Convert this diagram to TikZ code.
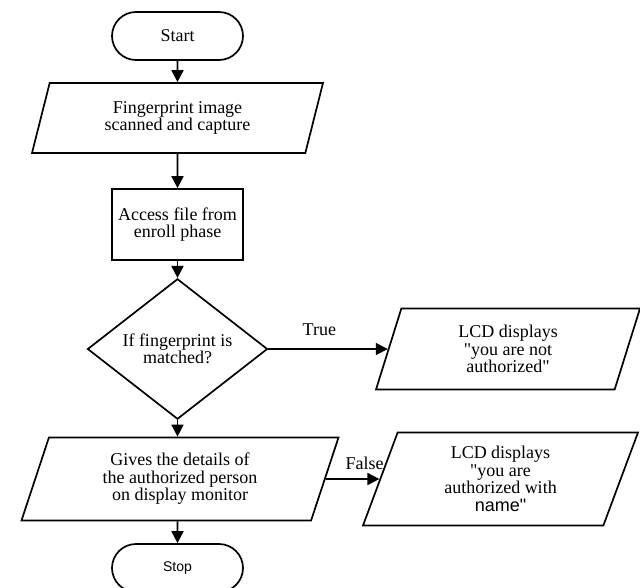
\documentclass[tikz,border=0pt]{standalone}
\usepackage{fontspec}
\setmainfont{Liberation Serif}
\newfontfamily\arialfont{Liberation Sans}
\usepackage{tikz}
\usetikzlibrary{positioning}
\usetikzlibrary{calc,arrows.meta}
\usetikzlibrary{shapes.misc,shapes.geometric}

\tikzset{
	flowline/.style={line width=1.7pt, -{Triangle[width=12pt,length=12pt]}},
	termbox/.style={draw, line width=1.7pt, rounded rectangle, minimum width=131pt, minimum height=48pt, inner sep=0pt},
	procbox/.style={draw, line width=1.7pt, rectangle, minimum width=131pt, minimum height=71pt, inner sep=0pt, align=center},
	decbox/.style={draw, line width=1.7pt, diamond, minimum width=180pt, minimum height=108pt, inner sep=0pt, align=center},
	iobox/.style={draw, line width=1.7pt, trapezium, trapezium left angle=62, trapezium right angle=118,
		trapezium stretches body, inner sep=0pt, align=center},
}

\begin{document}
\begin{tikzpicture}[x=1pt, y=-1pt, font=\fontsize{18}{17.5}\selectfont]
	
	% canvas: one unit is one pixel of the original, y runs downwards
	\useasboundingbox (0,0) rectangle (640,587);
	
	% main column
	\node[termbox] (Start) at (177.5,36) {Start};
	\node[iobox, minimum width=291pt, minimum height=70pt] (Scan) at (177.5,118) {Fingerprint image\\scanned and capture};
	\node[procbox] (Access) at (177.5,224.5) {Access file from\\enroll phase};
	\node[decbox] (Match) at (177.5,349) {If fingerprint is\\matched?};
	\node[iobox, minimum width=317pt, minimum height=83pt] (Details) at (180,479) {Gives the details of\\the authorized person\\on display monitor};
	\node[termbox] (Stop) at (177.5,568) {\arialfont\fontsize{14}{16}\selectfont Stop};
	
	% the two LCD outputs on the right
	\node[iobox, minimum width=264pt, minimum height=81pt] (NotAuth) at (508,349) {LCD displays\\\textquotedbl you are not\\authorized\textquotedbl};
	\node[iobox, minimum width=275pt, minimum height=93pt] (Auth) at (500.5,479) {LCD displays\\\textquotedbl you are\\authorized with\\{\arialfont name"}};
	
	% connectors
	\draw[flowline] (Start) -- (Scan);
	\draw[flowline] (Scan) -- (Access);
	\draw[flowline] (Access) -- (Match);
	\draw[flowline] (Match.south) -- (Match.south |- Details.north);
	\draw[flowline] (Details.south -| Stop.north) -- (Stop);
	\draw[flowline] (Match.east) -- (NotAuth.west);
	\draw[flowline] (Details.east) -- (Auth.west);
	
	% branch labels
	\node (TrueLabel) at ($(Match.east)+(51,-19)$) {True};
	\node (FalseLabel) at ($(Details.east)+(39,-16)$) {False};
	
\end{tikzpicture}
\end{document}
